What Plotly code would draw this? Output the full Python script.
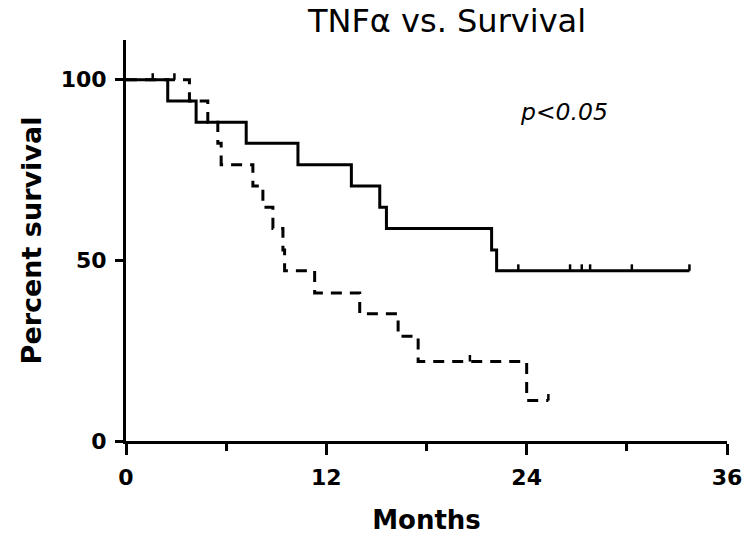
import numpy as np
import plotly.graph_objects as go

# Solid group (Kaplan-Meier steps)
solid_months = [0, 2.5, 4.2, 7.2, 10.3, 13.5, 15.2, 15.6, 21.9, 22.2, 33.75]
solid_surv = [100, 94.1, 88.2, 82.4, 76.5, 70.6, 64.7, 58.8, 52.9, 47.1, 47.1]
solid_censor = [1.6, 23.5, 26.6, 27.3, 27.8, 30.3, 33.75]

# Dashed group
dash_months = [0, 3.8, 4.9, 5.5, 5.7, 7.6, 8.2, 8.8, 9.4, 9.5, 11.3, 14.0, 16.3, 17.5, 24.0, 25.3]
dash_surv = [100, 94.1, 88.2, 82.4, 76.5, 70.6, 64.7, 58.8, 52.9, 47.1, 41.0, 35.2, 29.0, 22.0, 11.2, 11.2]
dash_censor = [2.9, 20.6, 25.3]

x_ticks = [0, 12, 24, 36]
y_ticks = [0, 50, 100]

FONT = "DejaVu Sans"


def step_value(times, surv, t):
    idx = np.searchsorted(np.array(times), t, side="right") - 1
    return surv[idx]


fig = go.Figure()
fig.add_trace(go.Scatter(x=solid_months, y=solid_surv, mode="lines", line_shape="hv",
                         line=dict(color="black", width=3), showlegend=False))
fig.add_trace(go.Scatter(x=dash_months, y=dash_surv, mode="lines", line_shape="hv",
                         line=dict(color="black", width=3, dash="11px,8px"), showlegend=False))

for times, surv, cens in [(solid_months, solid_surv, solid_censor),
                          (dash_months, dash_surv, dash_censor)]:
    cy = [step_value(times, surv, t) for t in cens]
    fig.add_trace(go.Scatter(x=cens, y=cy, mode="markers",
                             marker=dict(size=1, color="rgba(0,0,0,0)"),
                             error_y=dict(type="constant", symmetric=False, value=1.8, valueminus=0,
                                          width=0, thickness=2.5, color="black"),
                             showlegend=False))

fig.add_annotation(x=26.25, y=91.1, xref="x", yref="y", text="p<0.05", showarrow=False,
                   font=dict(family=FONT, size=23.5, color="black", style="italic"))

fig.update_layout(
    width=752, height=538,
    margin=dict(l=126, r=25, t=40, b=97, autoexpand=False),
    paper_bgcolor="white", plot_bgcolor="white",
    title=dict(text="TNFα vs. Survival", x=447 / 752, xanchor="center", y=1 - 21 / 538, yanchor="middle",
               font=dict(family=FONT, size=32, color="black")),
    font=dict(family=FONT, color="black"),
)
fig.update_xaxes(range=[0, 36], tickvals=x_ticks, ticks="outside", ticklen=11, tickwidth=3,
                 tickcolor="black", showline=True, linecolor="black", linewidth=3,
                 showgrid=False, zeroline=False, ticklabelstandoff=4, automargin=False,
                 tickfont=dict(family=FONT, size=22, weight="bold"),
                 minor=dict(tickvals=[6, 18, 30], ticks="outside", ticklen=7, tickwidth=3, tickcolor="black"),
                 title=dict(text="Months", font=dict(family=FONT, size=26, weight="bold"),
                            standoff=22))
fig.update_yaxes(range=[0, 111], tickvals=y_ticks, ticks="outside", ticklen=8, tickwidth=3,
                 tickcolor="black", showline=True, linecolor="black", linewidth=3,
                 showgrid=False, zeroline=False, ticklabelstandoff=4, automargin=False,
                 tickfont=dict(family=FONT, size=22, weight="bold"),
                 title=dict(text="Percent survival", font=dict(family=FONT, size=27, weight="bold"),
                            standoff=12))

fig.write_html("out.html")
